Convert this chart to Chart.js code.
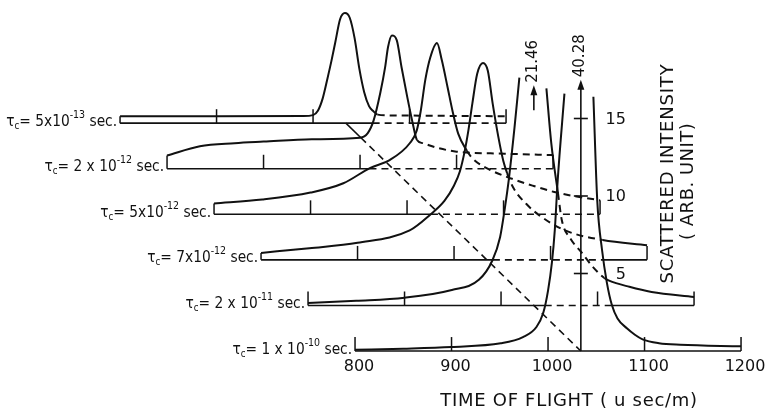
<!DOCTYPE html>
<html><head><meta charset="utf-8">
<script src="https://cdn.jsdelivr.net/npm/chart.js@4.4.1/dist/chart.umd.min.js"></script>
<style>html,body{margin:0;padding:0;background:#fff;}canvas{display:block;}</style>
</head><body>
<canvas id="c" width="767" height="408"></canvas>
<script>
// ---------------- DATA ----------------
// time of flight (usec/m) and scattered intensity (arb. unit) for each correlation time
const tof_1e10 = [800, 850, 900, 951, 974, 988, 995, 1000, 1004, 1007, 1010, 1017, 1032, 1047, 1051, 1056, 1061, 1066, 1072, 1082, 1090, 1098, 1115, 1137, 1200];
const int_1e10 = [0.08, 0.15, 0.26, 0.5, 0.9, 1.55, 2.45, 3.9, 5.7, 7.8, 11.0, 16.6, null, 16.4, 9.7, 6.5, 4.4, 3.0, 2.1, 1.45, 1.05, 0.75, 0.5, 0.4, 0.3];

const tof_2e11 = [800, 850, 900, 949, 977, 991, 999, 1004, 1008, 1014, 1019, 1033, 1047, 1052, 1059, 1063, 1072, 1083, 1095, 1107, 1112, 1133, 1156, 1200];
const int_2e11 = [0.15, 0.3, 0.5, 1.0, 1.65, 2.9, 4.4, 6.3, 8.1, 11.5, 14.7, null, 14.0, 10.5, 7.25, 5.5, 4.3, 3.45, 2.5, 1.77, 1.6, 1.2, 0.87, 0.55];

const tof_7e12 = [800, 850, 900, 954, 975, 990, 1000, 1006, 1011, 1015, 1019, 1024, 1030, 1035, 1040, 1046, 1051, 1055, 1061, 1075, 1090, 1115, 1154, 1200];
const int_7e12 = [0.45, 0.75, 1.1, 1.9, 2.9, 3.8, 4.8, 5.7, 7.0, 8.4, 10.1, 12.0, 12.7, 12.2, 10.1, 7.9, 6.4, 5.6, 4.7, 3.6, 2.8, 1.9, 1.28, 0.95];

const tof_5e12 = [800, 850, 900, 934, 962, 982, 1003, 1010, 1014, 1019, 1024, 1031, 1036, 1042, 1047, 1053, 1062, 1068, 1085, 1104, 1130, 1155, 1200];
const int_5e12 = [0.7, 0.95, 1.4, 2.0, 3.0, 3.5, 4.6, 5.4, 6.6, 8.7, 10.1, 11.05, 9.95, 8.2, 6.7, 5.2, 4.1, 3.6, 2.9, 2.4, 1.85, 1.4, 0.9];

const tof_2e12 = [800, 834, 870, 900, 950, 1000, 1008, 1014, 1021, 1026, 1029, 1033, 1038, 1043, 1049, 1054, 1059, 1065, 1080, 1100, 1150, 1200];
const int_2e12 = [0.85, 1.45, 1.65, 1.75, 1.9, 2.0, 2.3, 3.1, 4.9, 6.55, 7.85, 8.6, 8.3, 6.55, 4.6, 3.1, 1.85, 1.65, 1.35, 1.1, 0.97, 0.88];

const tof_5e13 = [800, 900, 990, 1000, 1005, 1010, 1015, 1019, 1023, 1028, 1033, 1038, 1043, 1048, 1053, 1058, 1062, 1067, 1080, 1120, 1160, 1200];
const int_5e13 = [0.45, 0.45, 0.46, 0.52, 0.8, 1.6, 2.9, 4.0, 5.2, 6.7, 7.1, 6.8, 5.5, 3.5, 2.0, 1.1, 0.8, 0.55, 0.5, 0.48, 0.46, 0.45];

// labels, front (frame 0) to back (frame 5)
const tauMantissa = ['1 x 10', '2 x 10', '7x10', '5x10', '2 x 10', '5x10'];
const tauExponent = ['-10', '-11', '-12', '-12', '-12', '-13'];
const tofTicks = [800, 900, 1000, 1100, 1200];
const intensityTicks = [5, 10, 15];
const elasticTOF = 1034;
const offScaleFrame = [0, 1];
const offScaleValue = [40.28, 21.46];

// ---------------- LAYOUT / STYLE ----------------
const X_MIN = 432.1, X_MAX = 1226.9, Y_MIN = -3.677, Y_MAX = 22.645;
const FRAME_DX = -48.7, FRAME_DY = 2.94;   // oblique shift per spectrum
const INK = '#111';
const DASH = [7, 5];
const TICK_H = 0.9;
const FONT = '"DejaVu Sans", sans-serif';

const frames = [
  {tof: tof_1e10, val: int_1e10},
  {tof: tof_2e11, val: int_2e11},
  {tof: tof_7e12, val: int_7e12},
  {tof: tof_5e12, val: int_5e12},
  {tof: tof_2e12, val: int_2e12},
  {tof: tof_5e13, val: int_5e13}
];

function curveY(j, X) {
  const f = frames[j];
  const t = X - FRAME_DX * j;
  if (t < f.tof[0] || t > f.tof[f.tof.length - 1]) return null;
  let lo = -1, hi = -1;
  for (let i = 0; i < f.tof.length; i++) {
    if (f.val[i] == null) continue;
    if (f.tof[i] <= t) lo = i;
    if (f.tof[i] >= t && hi < 0) hi = i;
  }
  if (lo < 0 || hi < 0) return null;
  const v = lo === hi ? f.val[lo] : f.val[lo] + (f.val[hi] - f.val[lo]) * (t - f.tof[lo]) / (f.tof[hi] - f.tof[lo]);
  return v + FRAME_DY * j;
}
function isHidden(depth, X, Y) {
  for (let j = 0; j < frames.length && j < depth - 1e-9; j++) {
    const yj = curveY(j, X);
    if (yj != null && Y < yj - 0.02) return true;
  }
  return false;
}

const datasets = [];
// spectra
frames.forEach((f, k) => {
  const pts = f.tof.map((t, i) => ({x: t + FRAME_DX * k, y: f.val[i] == null ? null : f.val[i] + FRAME_DY * k}));
  datasets.push({
    label: 'tau_c = ' + tauMantissa[k] + '^' + tauExponent[k],
    data: pts, showLine: true, borderColor: INK, borderWidth: 2, pointRadius: 0,
    cubicInterpolationMode: 'monotone', spanGaps: false, borderJoinStyle: 'round',
    segment: {borderDash: c => {
      const a = pts[c.p0DataIndex], b = pts[c.p1DataIndex];
      return isHidden(k, (a.x + b.x) / 2, (a.y + b.y) / 2) ? DASH : undefined;
    }}
  });
});
// baselines (split where they pass behind a front spectrum)
frames.forEach((f, k) => {
  const y = FRAME_DY * k;
  const x0 = tofTicks[0] + FRAME_DX * k, x1 = tofTicks[tofTicks.length - 1] + FRAME_DX * k;
  const pts = [{x: x0, y}];
  let prev = isHidden(k, x0, y);
  for (let x = x0 + 0.5; x <= x1; x += 0.5) {
    const h = isHidden(k, x, y);
    if (h !== prev) { pts.push({x: x - 0.25, y}); prev = h; }
  }
  pts.push({x: x1, y});
  datasets.push({
    label: 'baseline ' + k, data: pts, showLine: true, borderColor: INK, borderWidth: 1.6, pointRadius: 0,
    segment: {borderDash: c => {
      const a = pts[c.p0DataIndex], b = pts[c.p1DataIndex];
      return isHidden(k, (a.x + b.x) / 2, y) ? DASH : undefined;
    }}
  });
});
// guide line through the elastic position of every frame
(function () {
  const top = frames.length - 1;
  let tStar = 0;
  for (let t = top; t >= 0; t -= 0.01) {
    if (isHidden(t, elasticTOF + FRAME_DX * t, FRAME_DY * t)) { tStar = t; break; }
  }
  const pts = [top, tStar, 0].map(t => ({x: elasticTOF + FRAME_DX * t, y: FRAME_DY * t}));
  datasets.push({
    label: 'elastic line', data: pts, showLine: true, borderColor: INK, borderWidth: 1.6, pointRadius: 0,
    segment: {borderDash: c => c.p0DataIndex >= 1 ? DASH : undefined}
  });
})();

function drawTau(ctx, xRight, yBase, mant, exp) {
  const parts = [
    {t: 'τ', f: '16px ' + FONT, dy: 0},
    {t: 'c', f: '10px ' + FONT, dy: 3},
    {t: '= ' + mant, f: '16px ' + FONT, dy: 0},
    {t: exp, f: '11px ' + FONT, dy: -8},
    {t: ' sec.', f: '16px ' + FONT, dy: 0}
  ];
  const SX = 0.86;
  let w = 0;
  parts.forEach(p => { ctx.font = p.f; p.w = ctx.measureText(p.t).width; w += p.w; });
  ctx.save();
  ctx.translate(xRight - w * SX, yBase);
  ctx.scale(SX, 1);
  ctx.textAlign = 'left'; ctx.textBaseline = 'alphabetic';
  let x = 0;
  parts.forEach(p => { ctx.font = p.f; ctx.fillText(p.t, x, p.dy); x += p.w; });
  ctx.restore();
}
function arrowHead(ctx, x, yTip) {
  ctx.beginPath(); ctx.moveTo(x, yTip); ctx.lineTo(x - 3.5, yTip + 10); ctx.lineTo(x + 3.5, yTip + 10); ctx.closePath(); ctx.fill();
}

const annotate = {
  id: 'annotate',
  afterDatasetsDraw(chart) {
    const {ctx, scales: {x: sx, y: sy}} = chart;
    const px = v => sx.getPixelForValue(v), py = v => sy.getPixelForValue(v);
    ctx.save();
    ctx.strokeStyle = INK; ctx.fillStyle = INK; ctx.lineWidth = 1.5;
    // baseline ticks and spectrum labels
    frames.forEach((f, k) => {
      const yb = FRAME_DY * k;
      tofTicks.forEach((t, i) => {
        const X = t + FRAME_DX * k;
        let h = TICK_H;
        if (i === 0 && f.val[0] > 0.4) h = f.val[0];
        ctx.beginPath(); ctx.moveTo(px(X), py(yb)); ctx.lineTo(px(X), py(yb + h)); ctx.stroke();
      });
      drawTau(ctx, px(tofTicks[0] + FRAME_DX * k) - 3, py(yb) + 2.5, tauMantissa[k], tauExponent[k]);
    });
    // time-of-flight tick labels and title
    ctx.font = '16px ' + FONT; ctx.textAlign = 'center'; ctx.textBaseline = 'alphabetic';
    tofTicks.forEach(t => ctx.fillText(String(t), px(t) + 4, py(0) + 20));
    ctx.font = '18px ' + FONT;
    ctx.letterSpacing = '0.7px';
    const mid = (px(tofTicks[0]) + px(tofTicks[tofTicks.length - 1])) / 2;
    ctx.fillText('TIME OF FLIGHT ( u sec/m)', mid + 21, py(0) + 55);
    ctx.letterSpacing = '0px';
    // intensity axis (drawn at the elastic position of the front spectrum)
    const ax = px(elasticTOF);
    const axTop = 17.5;
    ctx.lineWidth = 1.6;
    ctx.beginPath(); ctx.moveTo(ax, py(0)); ctx.lineTo(ax, py(axTop) + 6); ctx.stroke();
    arrowHead(ctx, ax, py(axTop));
    intensityTicks.forEach(v => {
      ctx.beginPath(); ctx.moveTo(ax - 7, py(v)); ctx.lineTo(ax + 7, py(v)); ctx.stroke();
    });
    ctx.font = '16px ' + FONT; ctx.textAlign = 'right'; ctx.textBaseline = 'middle';
    intensityTicks.forEach(v => ctx.fillText(String(v), ax + 45, py(v) + 1));
    // axis title (rotated)
    ctx.textAlign = 'center'; ctx.textBaseline = 'alphabetic';
    ctx.font = '18px ' + FONT;
    ctx.save(); ctx.translate(ax + 92, py(11.45)); ctx.rotate(-Math.PI / 2);
    ctx.letterSpacing = '0.8px'; ctx.fillText('SCATTERED INTENSITY', 0, 0); ctx.restore();
    ctx.save(); ctx.translate(ax + 112, py(10.95)); ctx.rotate(-Math.PI / 2);
    ctx.letterSpacing = '0.5px'; ctx.fillText('( ARB. UNIT)', 0, 0); ctx.restore();
    // off-scale peak values
    ctx.font = '15px ' + FONT;
    offScaleFrame.forEach((k, i) => {
      const xk = px(elasticTOF + FRAME_DX * k);
      let tipY;
      if (k === 0) {
        tipY = py(axTop);
      } else {
        const yLow = py(FRAME_DY * k + 12.6), yTip = py(FRAME_DY * k + 14.2);
        ctx.beginPath(); ctx.moveTo(xk, yLow); ctx.lineTo(xk, yTip + 6); ctx.stroke();
        arrowHead(ctx, xk, yTip);
        tipY = yTip;
      }
      ctx.save(); ctx.translate(xk + 3, tipY - 24); ctx.rotate(-Math.PI / 2);
      ctx.textAlign = 'center'; ctx.textBaseline = 'alphabetic';
      ctx.fillText(offScaleValue[i].toFixed(2), 0, 0); ctx.restore();
    });
    ctx.restore();
  }
};

new Chart(document.getElementById('c'), {
  type: 'scatter',
  data: {datasets},
  options: {
    responsive: false, animation: false, devicePixelRatio: 1,
    layout: {padding: 0},
    plugins: {legend: {display: false}, tooltip: {enabled: false}},
    scales: {
      x: {type: 'linear', min: X_MIN, max: X_MAX, display: false},
      y: {type: 'linear', min: Y_MIN, max: Y_MAX, display: false}
    },
    elements: {point: {radius: 0}, line: {borderCapStyle: 'butt'}}
  },
  plugins: [annotate]
});
</script>
</body></html>
